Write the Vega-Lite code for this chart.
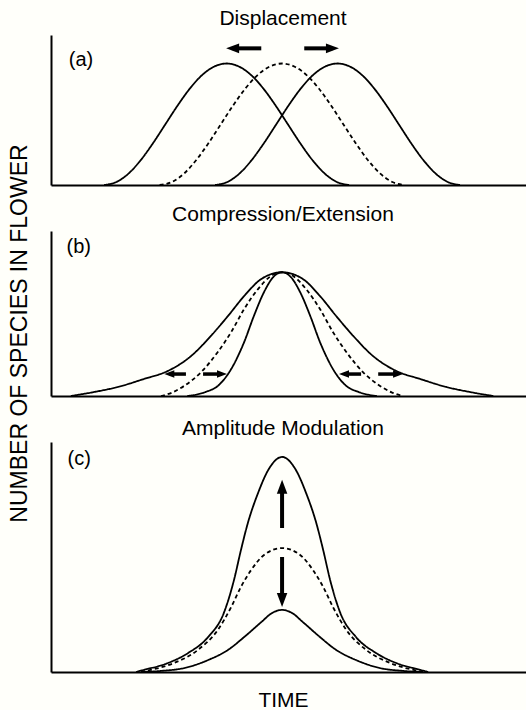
{
  "$schema": "https://vega.github.io/schema/vega-lite/v6.json",
  "background": "#fffffa",
  "padding": {"left": 7, "top": 8, "right": 0, "bottom": 0},
  "spacing": 46,
  "bounds": "flush",
  "config": {
    "font": "Liberation Sans",
    "view": {"stroke": null},
    "title": {"fontSize": 21, "fontWeight": "normal", "font": "Liberation Sans", "color": "black", "dx": -6, "anchor": "middle"},
    "axis": {"domainColor": "black", "domainWidth": 2, "ticks": false, "labels": false, "grid": false, "titleFont": "Liberation Sans", "titleFontWeight": "normal", "titleColor": "black"}
  },
  "datasets": {
    "a": [
      {"curve": "L", "style": "solid", "time": 11.5, "species": 0}, {"curve": "L", "style": "solid", "time": 14.15, "species": 2.0}, {"curve": "L", "style": "solid", "time": 16.8, "species": 7.7}, {"curve": "L", "style": "solid", "time": 19.45, "species": 16.7}, {"curve": "L", "style": "solid", "time": 22.1, "species": 28.0}, {"curve": "L", "style": "solid", "time": 24.75, "species": 40.5}, {"curve": "L", "style": "solid", "time": 27.4, "species": 53.0}, {"curve": "L", "style": "solid", "time": 30.05, "species": 64.3}, {"curve": "L", "style": "solid", "time": 32.7, "species": 73.3}, {"curve": "L", "style": "solid", "time": 35.35, "species": 79.0}, {"curve": "L", "style": "solid", "time": 38, "species": 81}, {"curve": "L", "style": "solid", "time": 40.65, "species": 79.0}, {"curve": "L", "style": "solid", "time": 43.3, "species": 73.3}, {"curve": "L", "style": "solid", "time": 45.95, "species": 64.3}, {"curve": "L", "style": "solid", "time": 48.6, "species": 53.0}, {"curve": "L", "style": "solid", "time": 51.25, "species": 40.5}, {"curve": "L", "style": "solid", "time": 53.9, "species": 28.0}, {"curve": "L", "style": "solid", "time": 56.55, "species": 16.7}, {"curve": "L", "style": "solid", "time": 59.2, "species": 7.7}, {"curve": "L", "style": "solid", "time": 61.85, "species": 2.0}, {"curve": "L", "style": "solid", "time": 64.5, "species": 0},
      {"curve": "M", "style": "dashed", "time": 23.5, "species": 0}, {"curve": "M", "style": "dashed", "time": 26.15, "species": 2.0}, {"curve": "M", "style": "dashed", "time": 28.8, "species": 7.7}, {"curve": "M", "style": "dashed", "time": 31.45, "species": 16.7}, {"curve": "M", "style": "dashed", "time": 34.1, "species": 28.0}, {"curve": "M", "style": "dashed", "time": 36.75, "species": 40.5}, {"curve": "M", "style": "dashed", "time": 39.4, "species": 53.0}, {"curve": "M", "style": "dashed", "time": 42.05, "species": 64.3}, {"curve": "M", "style": "dashed", "time": 44.7, "species": 73.3}, {"curve": "M", "style": "dashed", "time": 47.35, "species": 79.0}, {"curve": "M", "style": "dashed", "time": 50, "species": 81}, {"curve": "M", "style": "dashed", "time": 52.65, "species": 79.0}, {"curve": "M", "style": "dashed", "time": 55.3, "species": 73.3}, {"curve": "M", "style": "dashed", "time": 57.95, "species": 64.3}, {"curve": "M", "style": "dashed", "time": 60.6, "species": 53.0}, {"curve": "M", "style": "dashed", "time": 63.25, "species": 40.5}, {"curve": "M", "style": "dashed", "time": 65.9, "species": 28.0}, {"curve": "M", "style": "dashed", "time": 68.55, "species": 16.7}, {"curve": "M", "style": "dashed", "time": 71.2, "species": 7.7}, {"curve": "M", "style": "dashed", "time": 73.85, "species": 2.0}, {"curve": "M", "style": "dashed", "time": 76.5, "species": 0},
      {"curve": "R", "style": "solid", "time": 35.5, "species": 0}, {"curve": "R", "style": "solid", "time": 38.15, "species": 2.0}, {"curve": "R", "style": "solid", "time": 40.8, "species": 7.7}, {"curve": "R", "style": "solid", "time": 43.45, "species": 16.7}, {"curve": "R", "style": "solid", "time": 46.1, "species": 28.0}, {"curve": "R", "style": "solid", "time": 48.75, "species": 40.5}, {"curve": "R", "style": "solid", "time": 51.4, "species": 53.0}, {"curve": "R", "style": "solid", "time": 54.05, "species": 64.3}, {"curve": "R", "style": "solid", "time": 56.7, "species": 73.3}, {"curve": "R", "style": "solid", "time": 59.35, "species": 79.0}, {"curve": "R", "style": "solid", "time": 62, "species": 81}, {"curve": "R", "style": "solid", "time": 64.65, "species": 79.0}, {"curve": "R", "style": "solid", "time": 67.3, "species": 73.3}, {"curve": "R", "style": "solid", "time": 69.95, "species": 64.3}, {"curve": "R", "style": "solid", "time": 72.6, "species": 53.0}, {"curve": "R", "style": "solid", "time": 75.25, "species": 40.5}, {"curve": "R", "style": "solid", "time": 77.9, "species": 28.0}, {"curve": "R", "style": "solid", "time": 80.55, "species": 16.7}, {"curve": "R", "style": "solid", "time": 83.2, "species": 7.7}, {"curve": "R", "style": "solid", "time": 85.85, "species": 2.0}, {"curve": "R", "style": "solid", "time": 88.5, "species": 0}
    ],
    "b": [
      {"curve": "O", "style": "solid", "time": 4.3, "species": 0}, {"curve": "O", "style": "solid", "time": 9.5, "species": 2.5}, {"curve": "O", "style": "solid", "time": 14.5, "species": 5.5}, {"curve": "O", "style": "solid", "time": 20.1, "species": 10.3}, {"curve": "O", "style": "solid", "time": 25.3, "species": 15.2}, {"curve": "O", "style": "solid", "time": 30.3, "species": 24.2}, {"curve": "O", "style": "solid", "time": 34.6, "species": 36.4}, {"curve": "O", "style": "solid", "time": 38.3, "species": 48.5}, {"curve": "O", "style": "solid", "time": 41.8, "species": 60.6}, {"curve": "O", "style": "solid", "time": 45.5, "species": 70.9}, {"curve": "O", "style": "solid", "time": 50, "species": 75}, {"curve": "O", "style": "solid", "time": 54.5, "species": 70.9}, {"curve": "O", "style": "solid", "time": 58.2, "species": 60.6}, {"curve": "O", "style": "solid", "time": 61.7, "species": 48.5}, {"curve": "O", "style": "solid", "time": 65.4, "species": 36.4}, {"curve": "O", "style": "solid", "time": 69.7, "species": 24.2}, {"curve": "O", "style": "solid", "time": 74.7, "species": 15.2}, {"curve": "O", "style": "solid", "time": 79.9, "species": 10.3}, {"curve": "O", "style": "solid", "time": 85.5, "species": 5.5}, {"curve": "O", "style": "solid", "time": 90.5, "species": 2.5}, {"curve": "O", "style": "solid", "time": 95.7, "species": 0},
      {"curve": "I", "style": "solid", "time": 29.5, "species": 0}, {"curve": "I", "style": "solid", "time": 31.0, "species": 0.6}, {"curve": "I", "style": "solid", "time": 33.5, "species": 2.5}, {"curve": "I", "style": "solid", "time": 36.1, "species": 6.1}, {"curve": "I", "style": "solid", "time": 39.0, "species": 16.4}, {"curve": "I", "style": "solid", "time": 41.8, "species": 32.7}, {"curve": "I", "style": "solid", "time": 43.9, "species": 48.5}, {"curve": "I", "style": "solid", "time": 46.1, "species": 63.0}, {"curve": "I", "style": "solid", "time": 48.1, "species": 72.1}, {"curve": "I", "style": "solid", "time": 50, "species": 75}, {"curve": "I", "style": "solid", "time": 51.9, "species": 72.1}, {"curve": "I", "style": "solid", "time": 53.9, "species": 63.0}, {"curve": "I", "style": "solid", "time": 56.1, "species": 48.5}, {"curve": "I", "style": "solid", "time": 58.2, "species": 32.7}, {"curve": "I", "style": "solid", "time": 61.0, "species": 16.4}, {"curve": "I", "style": "solid", "time": 63.9, "species": 6.1}, {"curve": "I", "style": "solid", "time": 66.5, "species": 2.5}, {"curve": "I", "style": "solid", "time": 69.0, "species": 0.6}, {"curve": "I", "style": "solid", "time": 70.5, "species": 0},
      {"curve": "D", "style": "dashed", "time": 23.8, "species": 0}, {"curve": "D", "style": "dashed", "time": 26.3, "species": 2.2}, {"curve": "D", "style": "dashed", "time": 28.8, "species": 6.1}, {"curve": "D", "style": "dashed", "time": 32.5, "species": 14.5}, {"curve": "D", "style": "dashed", "time": 36.1, "species": 26.7}, {"curve": "D", "style": "dashed", "time": 39.0, "species": 38.8}, {"curve": "D", "style": "dashed", "time": 41.8, "species": 52.7}, {"curve": "D", "style": "dashed", "time": 44.8, "species": 64.8}, {"curve": "D", "style": "dashed", "time": 47.6, "species": 72.7}, {"curve": "D", "style": "dashed", "time": 50, "species": 75}, {"curve": "D", "style": "dashed", "time": 52.4, "species": 72.7}, {"curve": "D", "style": "dashed", "time": 55.2, "species": 64.8}, {"curve": "D", "style": "dashed", "time": 58.2, "species": 52.7}, {"curve": "D", "style": "dashed", "time": 61.0, "species": 38.8}, {"curve": "D", "style": "dashed", "time": 63.9, "species": 26.7}, {"curve": "D", "style": "dashed", "time": 67.5, "species": 14.5}, {"curve": "D", "style": "dashed", "time": 71.2, "species": 6.1}, {"curve": "D", "style": "dashed", "time": 73.7, "species": 2.2}, {"curve": "D", "style": "dashed", "time": 76.2, "species": 0}
    ],
    "c": [
      {"curve": "T", "style": "solid", "time": 18.4, "species": 0}, {"curve": "T", "style": "solid", "time": 20.1, "species": 0.9}, {"curve": "T", "style": "solid", "time": 25.3, "species": 3.9}, {"curve": "T", "style": "solid", "time": 29.7, "species": 8.3}, {"curve": "T", "style": "solid", "time": 34.0, "species": 15.2}, {"curve": "T", "style": "solid", "time": 37.4, "species": 25.7}, {"curve": "T", "style": "solid", "time": 39.6, "species": 40}, {"curve": "T", "style": "solid", "time": 41.1, "species": 53}, {"curve": "T", "style": "solid", "time": 42.6, "species": 64.8}, {"curve": "T", "style": "solid", "time": 44.8, "species": 77.8}, {"curve": "T", "style": "solid", "time": 47.0, "species": 87.8}, {"curve": "T", "style": "solid", "time": 50, "species": 93.5}, {"curve": "T", "style": "solid", "time": 53.0, "species": 87.8}, {"curve": "T", "style": "solid", "time": 55.2, "species": 77.8}, {"curve": "T", "style": "solid", "time": 57.4, "species": 64.8}, {"curve": "T", "style": "solid", "time": 58.9, "species": 53}, {"curve": "T", "style": "solid", "time": 60.4, "species": 40}, {"curve": "T", "style": "solid", "time": 62.6, "species": 25.7}, {"curve": "T", "style": "solid", "time": 66.0, "species": 15.2}, {"curve": "T", "style": "solid", "time": 70.3, "species": 8.3}, {"curve": "T", "style": "solid", "time": 74.7, "species": 3.9}, {"curve": "T", "style": "solid", "time": 79.9, "species": 0.9}, {"curve": "T", "style": "solid", "time": 81.6, "species": 0},
      {"curve": "D", "style": "dashed", "time": 19.5, "species": 0}, {"curve": "D", "style": "dashed", "time": 21.6, "species": 0.9}, {"curve": "D", "style": "dashed", "time": 26.6, "species": 3.9}, {"curve": "D", "style": "dashed", "time": 31.8, "species": 9.6}, {"curve": "D", "style": "dashed", "time": 36.1, "species": 18.3}, {"curve": "D", "style": "dashed", "time": 39.0, "species": 28.3}, {"curve": "D", "style": "dashed", "time": 41.1, "species": 37.0}, {"curve": "D", "style": "dashed", "time": 43.3, "species": 44.3}, {"curve": "D", "style": "dashed", "time": 46.1, "species": 50.9}, {"curve": "D", "style": "dashed", "time": 50, "species": 53.9}, {"curve": "D", "style": "dashed", "time": 53.9, "species": 50.9}, {"curve": "D", "style": "dashed", "time": 56.7, "species": 44.3}, {"curve": "D", "style": "dashed", "time": 58.9, "species": 37.0}, {"curve": "D", "style": "dashed", "time": 61.0, "species": 28.3}, {"curve": "D", "style": "dashed", "time": 63.9, "species": 18.3}, {"curve": "D", "style": "dashed", "time": 68.2, "species": 9.6}, {"curve": "D", "style": "dashed", "time": 73.4, "species": 3.9}, {"curve": "D", "style": "dashed", "time": 78.4, "species": 0.9}, {"curve": "D", "style": "dashed", "time": 80.5, "species": 0},
      {"curve": "B", "style": "solid", "time": 19.5, "species": 0}, {"curve": "B", "style": "solid", "time": 24.0, "species": 0.5}, {"curve": "B", "style": "solid", "time": 28.8, "species": 1.7}, {"curve": "B", "style": "solid", "time": 34.0, "species": 5.2}, {"curve": "B", "style": "solid", "time": 38.3, "species": 9.6}, {"curve": "B", "style": "solid", "time": 41.8, "species": 15.2}, {"curve": "B", "style": "solid", "time": 45.5, "species": 21.7}, {"curve": "B", "style": "solid", "time": 47.8, "species": 25.6}, {"curve": "B", "style": "solid", "time": 50, "species": 27}, {"curve": "B", "style": "solid", "time": 52.2, "species": 25.6}, {"curve": "B", "style": "solid", "time": 54.5, "species": 21.7}, {"curve": "B", "style": "solid", "time": 58.2, "species": 15.2}, {"curve": "B", "style": "solid", "time": 61.7, "species": 9.6}, {"curve": "B", "style": "solid", "time": 66.0, "species": 5.2}, {"curve": "B", "style": "solid", "time": 71.2, "species": 1.7}, {"curve": "B", "style": "solid", "time": 76.0, "species": 0.5}, {"curve": "B", "style": "solid", "time": 80.5, "species": 0}
    ],
    "arrowsA": [
      {"tail": 45.5, "head": 39.3, "level": 91.1, "dir": "left"},
      {"tail": 54.8, "head": 60.9, "level": 91.1, "dir": "right"}
    ],
    "arrowsB": [
      {"tail": 29.2, "head": 25.6, "level": 13.3, "dir": "left"},
      {"tail": 32.9, "head": 37.0, "level": 13.3, "dir": "right"},
      {"tail": 67.1, "head": 63.4, "level": 13.3, "dir": "left"},
      {"tail": 70.8, "head": 75.1, "level": 13.3, "dir": "right"}
    ],
    "arrowsC": [
      {"tail": 62.6, "head": 80.5, "pos": 50, "dir": "up"},
      {"tail": 50.0, "head": 31.3, "pos": 50, "dir": "down"}
    ]
  },
  "vconcat": [
    {
      "width": 476,
      "height": 150,
      "title": {"text": "Displacement", "offset": 6},
      "layer": [
        {
          "data": {"name": "a"},
          "mark": {"type": "line", "interpolate": "monotone", "color": "black", "strokeWidth": 1.8},
          "encoding": {
            "x": {"field": "time", "type": "quantitative", "scale": {"domain": [0, 103], "nice": false, "zero": false}, "axis": {"title": null}},
            "y": {"field": "species", "type": "quantitative", "scale": {"domain": [0, 100], "nice": false}, "axis": {"title": "NUMBER OF SPECIES IN FLOWER", "titleFontSize": 23, "titleX": -20, "titleY": 298, "titleAngle": 270, "titleBaseline": "bottom", "titleAlign": "center"}},
            "detail": {"field": "curve"},
            "strokeDash": {"field": "style", "type": "nominal", "scale": {"domain": ["solid", "dashed"], "range": [[1, 0], [4, 3]]}, "legend": null}
          }
        },
        {
          "data": {"name": "arrowsA"},
          "mark": {"type": "rule", "color": "black", "strokeWidth": 4},
          "encoding": {
            "x": {"field": "tail", "type": "quantitative", "scale": {"domain": [0, 103], "nice": false, "zero": false}, "axis": {"title": null}},
            "x2": {"field": "head"},
            "y": {"field": "level", "type": "quantitative", "scale": {"domain": [0, 100], "nice": false}, "axis": {"title": "NUMBER OF SPECIES IN FLOWER", "titleFontSize": 23, "titleX": -20, "titleY": 298, "titleAngle": 270, "titleBaseline": "bottom", "titleAlign": "center"}}
          }
        },
        {
          "data": {"name": "arrowsA"},
          "mark": {"type": "point", "filled": true, "color": "black", "opacity": 1, "size": 169, "strokeWidth": 0},
          "encoding": {
            "x": {"field": "head", "type": "quantitative", "scale": {"domain": [0, 103], "nice": false, "zero": false}, "axis": {"title": null}},
            "y": {"field": "level", "type": "quantitative", "scale": {"domain": [0, 100], "nice": false}, "axis": {"title": "NUMBER OF SPECIES IN FLOWER", "titleFontSize": 23, "titleX": -20, "titleY": 298, "titleAngle": 270, "titleBaseline": "bottom", "titleAlign": "center"}},
            "shape": {"field": "dir", "type": "nominal", "scale": {"domain": ["left", "right", "up", "down"], "range": ["M-1,0L1,-0.75L1,0.75Z", "M1,0L-1,-0.75L-1,0.75Z", "M0,-1L-0.75,1L0.75,1Z", "M0,1L-0.75,-1L0.75,-1Z"]}, "legend": null}
          }
        },
        {
          "data": {"values": [{"label": "(a)"}]},
          "mark": {"type": "text", "fontSize": 20, "color": "black", "align": "center", "baseline": "middle"},
          "encoding": {
            "x": {"datum": 6.5, "type": "quantitative", "scale": {"domain": [0, 103], "nice": false, "zero": false}, "axis": {"title": null}},
            "y": {"datum": 83.3, "type": "quantitative", "scale": {"domain": [0, 100], "nice": false}, "axis": {"title": "NUMBER OF SPECIES IN FLOWER", "titleFontSize": 23, "titleX": -20, "titleY": 298, "titleAngle": 270, "titleBaseline": "bottom", "titleAlign": "center"}},
            "text": {"field": "label"}
          }
        }
      ]
    },
    {
      "width": 476,
      "height": 165,
      "title": {"text": "Compression/Extension", "offset": 6},
      "layer": [
        {
          "data": {"name": "b"},
          "mark": {"type": "line", "interpolate": "monotone", "color": "black", "strokeWidth": 1.8},
          "encoding": {
            "x": {"field": "time", "type": "quantitative", "scale": {"domain": [0, 103], "nice": false, "zero": false}, "axis": {"title": null}},
            "y": {"field": "species", "type": "quantitative", "scale": {"domain": [0, 100], "nice": false}, "axis": {"title": null}},
            "detail": {"field": "curve"},
            "strokeDash": {"field": "style", "type": "nominal", "scale": {"domain": ["solid", "dashed"], "range": [[1, 0], [4, 3]]}, "legend": null}
          }
        },
        {
          "data": {"name": "arrowsB"},
          "mark": {"type": "rule", "color": "black", "strokeWidth": 3.5},
          "encoding": {
            "x": {"field": "tail", "type": "quantitative", "scale": {"domain": [0, 103], "nice": false, "zero": false}, "axis": {"title": null}},
            "x2": {"field": "head"},
            "y": {"field": "level", "type": "quantitative", "scale": {"domain": [0, 100], "nice": false}, "axis": {"title": null}}
          }
        },
        {
          "data": {"name": "arrowsB"},
          "mark": {"type": "point", "filled": true, "color": "black", "opacity": 1, "size": 100, "strokeWidth": 0},
          "encoding": {
            "x": {"field": "head", "type": "quantitative", "scale": {"domain": [0, 103], "nice": false, "zero": false}, "axis": {"title": null}},
            "y": {"field": "level", "type": "quantitative", "scale": {"domain": [0, 100], "nice": false}, "axis": {"title": null}},
            "shape": {"field": "dir", "type": "nominal", "scale": {"domain": ["left", "right", "up", "down"], "range": ["M-1,0L1,-0.75L1,0.75Z", "M1,0L-1,-0.75L-1,0.75Z", "M0,-1L-0.75,1L0.75,1Z", "M0,1L-0.75,-1L0.75,-1Z"]}, "legend": null}
          }
        },
        {
          "data": {"values": [{"label": "(b)"}]},
          "mark": {"type": "text", "fontSize": 20, "color": "black", "align": "center", "baseline": "middle"},
          "encoding": {
            "x": {"datum": 6.0, "type": "quantitative", "scale": {"domain": [0, 103], "nice": false, "zero": false}, "axis": {"title": null}},
            "y": {"datum": 90.3, "type": "quantitative", "scale": {"domain": [0, 100], "nice": false}, "axis": {"title": null}},
            "text": {"field": "label"}
          }
        }
      ]
    },
    {
      "width": 476,
      "height": 230,
      "title": {"text": "Amplitude Modulation", "offset": 3},
      "layer": [
        {
          "data": {"name": "c"},
          "mark": {"type": "line", "interpolate": "monotone", "color": "black", "strokeWidth": 1.8},
          "encoding": {
            "x": {"field": "time", "type": "quantitative", "scale": {"domain": [0, 103], "nice": false, "zero": false}, "axis": {"title": "TIME", "titleFontSize": 21, "titlePadding": 17, "titleX": 232, "titleAlign": "center"}},
            "y": {"field": "species", "type": "quantitative", "scale": {"domain": [0, 100], "nice": false}, "axis": {"title": null}},
            "detail": {"field": "curve"},
            "strokeDash": {"field": "style", "type": "nominal", "scale": {"domain": ["solid", "dashed"], "range": [[1, 0], [4, 3]]}, "legend": null}
          }
        },
        {
          "data": {"name": "arrowsC"},
          "mark": {"type": "rule", "color": "black", "strokeWidth": 4},
          "encoding": {
            "x": {"field": "pos", "type": "quantitative", "scale": {"domain": [0, 103], "nice": false, "zero": false}, "axis": {"title": "TIME", "titleFontSize": 21, "titlePadding": 17, "titleX": 232, "titleAlign": "center"}},
            "y": {"field": "tail", "type": "quantitative", "scale": {"domain": [0, 100], "nice": false}, "axis": {"title": null}},
            "y2": {"field": "head"}
          }
        },
        {
          "data": {"name": "arrowsC"},
          "mark": {"type": "point", "filled": true, "color": "black", "opacity": 1, "size": 196, "strokeWidth": 0},
          "encoding": {
            "x": {"field": "pos", "type": "quantitative", "scale": {"domain": [0, 103], "nice": false, "zero": false}, "axis": {"title": "TIME", "titleFontSize": 21, "titlePadding": 17, "titleX": 232, "titleAlign": "center"}},
            "y": {"field": "head", "type": "quantitative", "scale": {"domain": [0, 100], "nice": false}, "axis": {"title": null}},
            "shape": {"field": "dir", "type": "nominal", "scale": {"domain": ["left", "right", "up", "down"], "range": ["M-1,0L1,-0.75L1,0.75Z", "M1,0L-1,-0.75L-1,0.75Z", "M0,-1L-0.75,1L0.75,1Z", "M0,1L-0.75,-1L0.75,-1Z"]}, "legend": null}
          }
        },
        {
          "data": {"values": [{"label": "(c)"}]},
          "mark": {"type": "text", "fontSize": 20, "color": "black", "align": "center", "baseline": "middle"},
          "encoding": {
            "x": {"datum": 6.1, "type": "quantitative", "scale": {"domain": [0, 103], "nice": false, "zero": false}, "axis": {"title": "TIME", "titleFontSize": 21, "titlePadding": 17, "titleX": 232, "titleAlign": "center"}},
            "y": {"datum": 92.6, "type": "quantitative", "scale": {"domain": [0, 100], "nice": false}, "axis": {"title": null}},
            "text": {"field": "label"}
          }
        }
      ]
    }
  ]
}
